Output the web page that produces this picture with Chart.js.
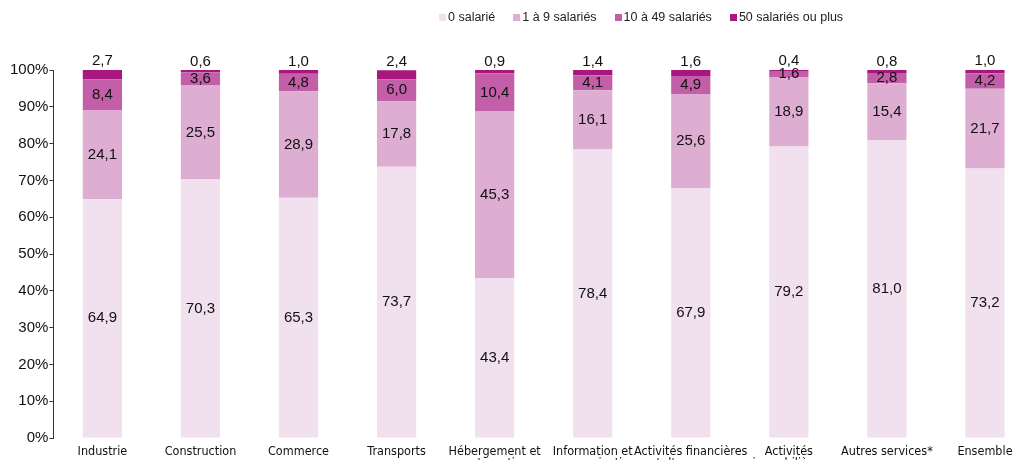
<!DOCTYPE html>
<html>
<head>
<meta charset="utf-8">
<script src="https://cdn.jsdelivr.net/npm/chart.js@4"></script>
<style>
  html, body { margin: 0; padding: 0; background: #fff; overflow: hidden; }
  #wrap { position: relative; width: 1040px; height: 477px; }
  #legend { position: absolute; top: 10px; left: 439px; display: flex; font: 12.5px "Liberation Sans", Arial, sans-serif; color: #222; }
  #legend .item { display: flex; align-items: center; margin-right: 18px; }
  #legend .box { width: 7px; height: 7px; margin-right: 2px; }
</style>
</head>
<body>
<div id="wrap">
  <canvas id="chart" width="1040" height="477"></canvas>
  <div id="legend"></div>
</div>
<script>
const categories = [
  'Industrie', 'Construction', 'Commerce', 'Transports',
  ['Hébergement et', 'restauration'], ['Information et', 'communication'],
  ['Activités financières', "et d'assurance"], ['Activités', 'immobilières'],
  'Autres services*', 'Ensemble'
];
const seriesNames = ['0 salarié', '1 à 9 salariés', '10 à 49 salariés', '50 salariés ou plus'];
const seriesColors = ['#f1e0ee', '#deadd2', '#c35fa8', '#a7177d'];
const zero = [64.9, 70.3, 65.3, 73.7, 43.4, 78.4, 67.9, 79.2, 81.0, 73.2];
const oneToNine = [24.1, 25.5, 28.9, 17.8, 45.3, 16.1, 25.6, 18.9, 15.4, 21.7];
const tenToFortyNine = [8.4, 3.6, 4.8, 6.0, 10.4, 4.1, 4.9, 1.6, 2.8, 4.2];
const fiftyPlus = [2.7, 0.6, 1.0, 2.4, 0.9, 1.4, 1.6, 0.4, 0.8, 1.0];
const yTicks = [0, 10, 20, 30, 40, 50, 60, 70, 80, 90, 100];

const allSeries = [zero, oneToNine, tenToFortyNine, fiftyPlus];
const FONT = '"Liberation Sans", Arial, sans-serif';

// legend in html
const legendEl = document.getElementById('legend');
seriesNames.forEach((name, i) => {
  const item = document.createElement('div');
  item.className = 'item';
  item.innerHTML = '<span class="box" style="background:' + seriesColors[i] + '"></span>' + name;
  legendEl.appendChild(item);
});

const fmt = v => v.toFixed(1).replace('.', ',');

const valueLabels = {
  id: 'valueLabels',
  afterDatasetsDraw(chart) {
    const c = chart.ctx;
    c.save();
    c.font = '15px ' + FONT;
    c.fillStyle = '#111';
    c.textAlign = 'center';
    chart.data.datasets.forEach((ds, di) => {
      const meta = chart.getDatasetMeta(di);
      meta.data.forEach((bar, i) => {
        const v = ds.data[i];
        if (di === 3) {
          c.textBaseline = 'bottom';
          c.fillText(fmt(v), bar.x, bar.y - 1);
        } else {
          c.textBaseline = 'middle';
          c.fillText(fmt(v), bar.x, (bar.y + bar.base) / 2);
        }
      });
    });
    c.restore();
  }
};

new Chart(document.getElementById('chart'), {
  type: 'bar',
  data: {
    labels: categories,
    datasets: allSeries.map((d, i) => ({
      label: seriesNames[i],
      data: d,
      backgroundColor: seriesColors[i],
      barPercentage: 0.4,
      categoryPercentage: 1.0
    }))
  },
  options: {
    responsive: false,
    animation: false,
    layout: { padding: { top: 70, left: 9, right: 6, bottom: 0 } },
    plugins: { legend: { display: false }, tooltip: { enabled: false } },
    scales: {
      x: {
        stacked: true,
        grid: { display: false, drawTicks: false, tickLength: 0 },
        border: { display: false },
        ticks: {
          color: '#111',
          font: { family: '"Liberation Sans Narrow", "DejaVu Sans Condensed", Arial, sans-serif', size: 12.5, lineHeight: 1.0 },
          maxRotation: 0,
          autoSkip: false,
          padding: 7
        }
      },
      y: {
        stacked: true,
        min: 0,
        max: 100,
        afterBuildTicks(axis) { axis.ticks = yTicks.map(v => ({ value: v })); },
        grid: { drawOnChartArea: false, drawTicks: true, tickLength: 4, color: '#333' },
        border: { display: true, color: '#333' },
        ticks: {
          color: '#111',
          font: { family: FONT, size: 15 },
          padding: 1,
          callback: v => v + '%'
        }
      }
    }
  },
  plugins: [valueLabels]
});
</script>
</body>
</html>
